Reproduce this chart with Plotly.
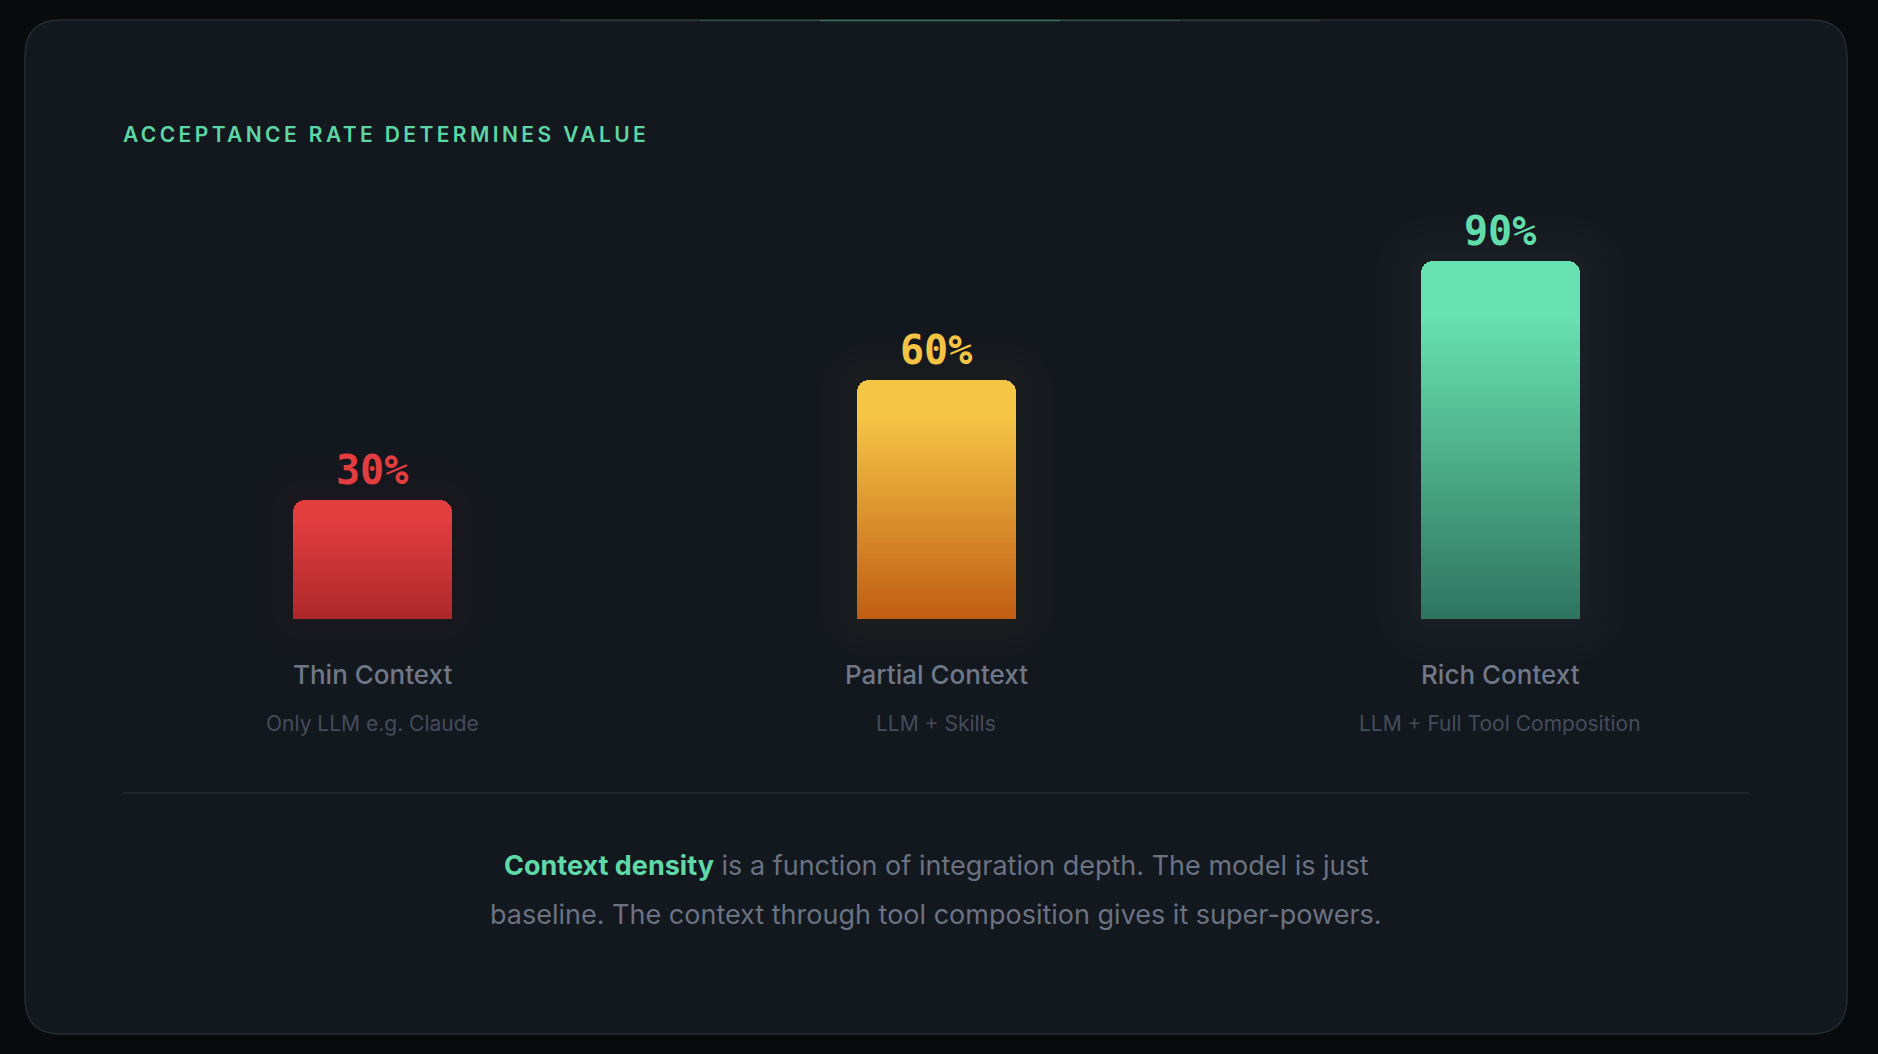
import plotly.graph_objects as go

# ---- data ----
categories = ["Thin Context", "Partial Context", "Rich Context"]
subtitles = ["Only LLM e.g. Claude", "LLM + Skills", "LLM + Full Tool Composition"]
acceptance = [30, 60, 90]
value_labels = ["30%", "60%", "90%"]
top_colors = ["#e23e40", "#f5c546", "#69e2b1"]
bottom_colors = ["#ad282b", "#c05e14", "#2f7560"]
label_colors = ["#e33d3f", "#f5c444", "#63dcab"]

title_text = "ACCEPTANCE RATE DETERMINES VALUE"
footer_line1 = ("<b><span style='color:#5fd9a7'>Context density</span></b>"
                " is a function of integration depth. The model is just")
footer_line2 = "baseline. The context through tool composition gives it super-powers."

# ---- geometry (pixels of the 1878x1054 page) ----
W, H = 1878, 1054
BASE_PX = 619
PX_PER = 3.98
X0_PX = 372
STEP_PX = 564
BAR_PX = 159
RADIUS = 12


def px_x(p):
    return p / W


def px_y(p):
    return 1 - p / H


def hex_to_rgb(h):
    h = h.lstrip("#")
    return tuple(int(h[i:i + 2], 16) for i in (0, 2, 4))


def mix(c1, c2, t):
    a, b = hex_to_rgb(c1), hex_to_rgb(c2)
    return "rgb(%d,%d,%d)" % tuple(round(a[i] + (b[i] - a[i]) * t) for i in range(3))


def rgba_mix(c, t, a):
    r, g, b = hex_to_rgb(c)
    n = 150
    return "rgba(%d,%d,%d,%.3f)" % (round(r * t + n * (1 - t)), round(g * t + n * (1 - t)),
                                    round(b * t + n * (1 - t)), a)


def rgba(c, a):
    r, g, b = hex_to_rgb(c)
    return "rgba(%d,%d,%d,%.3f)" % (r, g, b, a)


xs = list(range(len(categories)))
bar_w = BAR_PX / STEP_PX

fig = go.Figure()

# soft glow behind bars
for pad in [44, 36, 28, 20, 12, 6]:
    pad_y = pad / PX_PER
    pad_x = pad / STEP_PX
    fig.add_trace(go.Bar(
        x=xs, y=[v + 2 * pad_y for v in acceptance], base=[-pad_y] * len(xs),
        width=[bar_w + 2 * pad_x] * len(xs),
        marker=dict(color=[rgba_mix(c, 0.35, 0.012) for c in top_colors], line=dict(width=0),
                    cornerradius=RADIUS + pad),
        hoverinfo="skip", showlegend=False))

# main bars: solid top with rounded corners
fig.add_trace(go.Bar(
    x=xs, y=acceptance, base=[0] * len(xs), width=[bar_w] * len(xs),
    marker=dict(color=top_colors, line=dict(width=0), cornerradius=RADIUS),
    hovertemplate="%{x}: %{y}%<extra></extra>", showlegend=False))

# vertical gradient built from overlaid bars of decreasing height
SOLID_TOP = 0.14
N = 48
for j in range(N):
    frac = (1 - SOLID_TOP) * (1 - j / N)
    t = j / (N - 1)
    fig.add_trace(go.Bar(
        x=xs, y=[v * frac for v in acceptance], base=[0] * len(xs),
        width=[bar_w] * len(xs),
        marker=dict(color=[mix(top_colors[i], bottom_colors[i], t) for i in xs],
                    line=dict(width=0), cornerradius=0),
        hoverinfo="skip", showlegend=False))

x_range = [-X0_PX / STEP_PX, (W - X0_PX) / STEP_PX]
y_range = [-(H - BASE_PX) / PX_PER, BASE_PX / PX_PER]

shapes = []
# card
L, T, R, B, r = 25, 20, 1847, 1034, 36
pts = (f"M {px_x(L + r)},{px_y(T)} L {px_x(R - r)},{px_y(T)} "
       f"Q {px_x(R)},{px_y(T)} {px_x(R)},{px_y(T + r)} "
       f"L {px_x(R)},{px_y(B - r)} Q {px_x(R)},{px_y(B)} {px_x(R - r)},{px_y(B)} "
       f"L {px_x(L + r)},{px_y(B)} Q {px_x(L)},{px_y(B)} {px_x(L)},{px_y(B - r)} "
       f"L {px_x(L)},{px_y(T + r)} Q {px_x(L)},{px_y(T)} {px_x(L + r)},{px_y(T)} Z")
shapes.append(dict(type="path", xref="paper", yref="paper", path=pts,
                   fillcolor="#13171e", line=dict(color="#262c33", width=1.5),
                   layer="below"))
# top accent glow
for x0, x1, a in [(560, 1320, 0.10), (700, 1180, 0.16), (820, 1060, 0.22)]:
    shapes.append(dict(type="line", xref="paper", yref="paper",
                       x0=px_x(x0), x1=px_x(x1), y0=px_y(20.5), y1=px_y(20.5),
                       line=dict(color=rgba("#5fd9a7", a), width=1.5), layer="below"))
# divider
shapes.append(dict(type="line", xref="paper", yref="paper",
                   x0=px_x(122), x1=px_x(1750), y0=px_y(793), y1=px_y(793),
                   line=dict(color="#262b33", width=1.5), layer="below"))

annotations = [
    dict(text="<span style='letter-spacing:3.4px'>" + title_text + "</span>",
         xref="paper", yref="paper", x=px_x(121), y=px_y(135),
         xanchor="left", yanchor="middle", showarrow=False,
         font=dict(family="Inter", size=21, color="#5dd6a5", weight=600)),
    dict(text=footer_line1, xref="paper", yref="paper", x=px_x(936), y=px_y(865),
         xanchor="center", yanchor="middle", showarrow=False,
         font=dict(family="Inter", size=27, color="#6b7282")),
    dict(text=footer_line2, xref="paper", yref="paper", x=px_x(936), y=px_y(914),
         xanchor="center", yanchor="middle", showarrow=False,
         font=dict(family="Inter", size=27, color="#6b7282")),
]
for i in xs:
    annotations.append(dict(text=value_labels[i], x=i, y=acceptance[i], xref="x", yref="y",
                            yanchor="middle", yshift=30, showarrow=False,
                            font=dict(family="DejaVu Sans Mono", size=40,
                                      color=label_colors[i], weight=700)))
    annotations.append(dict(text=categories[i], x=i, y=px_y(674), xref="x", yref="paper",
                            yanchor="middle", showarrow=False,
                            font=dict(family="Inter", size=26, color="#707888", weight=500)))
    annotations.append(dict(text=subtitles[i], x=i, y=px_y(723), xref="x", yref="paper",
                            yanchor="middle", showarrow=False,
                            font=dict(family="Inter", size=21, color="#454c59")))

fig.update_layout(
    width=W, height=H, margin=dict(l=0, r=0, t=0, b=0),
    paper_bgcolor="#090a0c", plot_bgcolor="rgba(0,0,0,0)",
    barmode="overlay", bargap=0,
    xaxis=dict(range=x_range, visible=False, fixedrange=True),
    yaxis=dict(range=y_range, visible=False, fixedrange=True),
    shapes=shapes, annotations=annotations, showlegend=False,
)

fig.write_html("out.html", config={"displayModeBar": False},
               post_script="document.body.style.margin='0';"
                           "document.body.style.background='#090a0c';"
                           "document.body.style.overflow='hidden';")
